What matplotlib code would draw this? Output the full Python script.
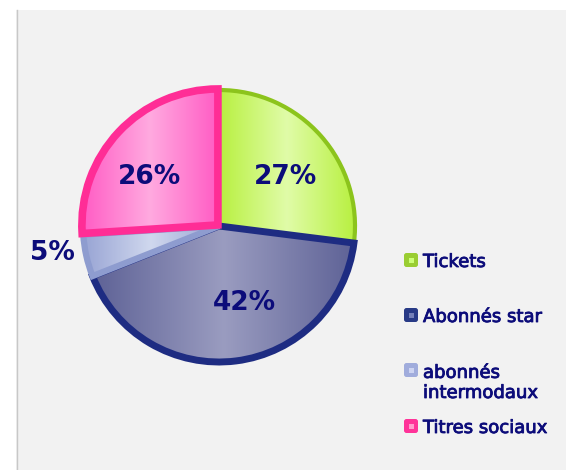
import numpy as np
import matplotlib
matplotlib.use('Agg')
import matplotlib.pyplot as plt
import matplotlib.patheffects as pe
from matplotlib.colors import LinearSegmentedColormap
from matplotlib.patches import Rectangle, FancyBboxPatch

# data
categories = ['Tickets', 'Abonnés star', 'abonnés\nintermodaux', 'Titres sociaux']
shares = [27, 42, 5, 26]

# styles
edge_cols = ['#8cc41c', '#1e2c82', '#8e9ccf', '#ff2d96']
fill_dark = ['#b8f040', '#5e6296', '#98a4d4', '#ff5cc4']
fill_light = ['#e0fca8', '#9a9cc0', '#d0d8ee', '#ffaae0']
key_outer = ['#9acd32', '#283a86', '#a0acdc', '#ff3399']
key_inner = ['#ccff77', '#7480b8', '#cdd4f2', '#ff9ccc']
border_w = [3.0, 5.0, 4.5, 5.5]
draw_order = [1, 2, 3, 4]
navy = '#0c0c7a'

W, H = 566, 470
fig = plt.figure(figsize=(W / 100, H / 100), dpi=100)
fig.patch.set_facecolor('white')
ax = fig.add_axes([0, 0, 1, 1])

# grey panel with a thin left rule
ax.add_patch(Rectangle((16, 0), W - 16, H - 10, fc='#f2f2f2', ec='none', zorder=0))
ax.plot([16.5, 16.5], [0, H - 10], color='#c8c8c8', lw=1, zorder=0.5)

cx, cy, r = 219, H - 226, 136
wedges, _, autotexts = ax.pie(shares, startangle=90, counterclock=False,
                              center=(cx, cy), radius=r,
                              explode=[0, 0, 0, 1.5],
                              autopct=lambda p: '%.0f%%' % p,
                              wedgeprops=dict(linewidth=0))

# horizontal gradient fill in each slice
grad = np.linspace(0, 1, 256)[None, :]
for i, w in enumerate(wedges):
    z = draw_order[i] * 2
    ext = w.get_path().get_extents()
    cmap = LinearSegmentedColormap.from_list('g%d' % i, [fill_dark[i], fill_light[i], fill_dark[i]])
    im = ax.imshow(grad, cmap=cmap, extent=(ext.x0, ext.x1, ext.y0, ext.y1),
                   aspect='auto', interpolation='bilinear', zorder=z)
    im.set_clip_path(w)
    w.set_facecolor('none')
    w.set_edgecolor(edge_cols[i])
    w.set_linewidth(border_w[i])
    w.set_zorder(z + 0.5)

# percentage labels
label_pos = [(286, 177), (244, 303), (52, 253), (149, 177)]
for t, (lx, ly) in zip(autotexts, label_pos):
    t.set_position((lx, H - ly))
    t.set_fontsize(19)
    t.set_fontweight('bold')
    t.set_color(navy)
    t.set_ha('center')
    t.set_va('center')
    t.set_zorder(20)

# legend
leg_x = 404
leg_base = [267, 322, 377, 433]
line_h = 21
for i, lab in enumerate(categories):
    yb = H - leg_base[i]
    ax.add_patch(FancyBboxPatch((leg_x, yb), 14, 14,
                                boxstyle='round,pad=0,rounding_size=2.5',
                                fc=key_outer[i], ec='none', zorder=20))
    ax.add_patch(Rectangle((leg_x + 4.5, yb + 4.5), 5, 5, fc=key_inner[i], ec='none', zorder=21))
    extra = lab.count('\n')
    ax.text(leg_x + 19, yb - extra * line_h, lab, fontsize=13, color=navy,
            ha='left', va='baseline', linespacing=1.15, zorder=21,
            path_effects=[pe.withStroke(linewidth=0.6, foreground=navy)])

ax.set_xlim(0, W)
ax.set_ylim(0, H)
ax.set_aspect('auto')
ax.axis('off')

fig.savefig('out.png', dpi=100, facecolor='white')
